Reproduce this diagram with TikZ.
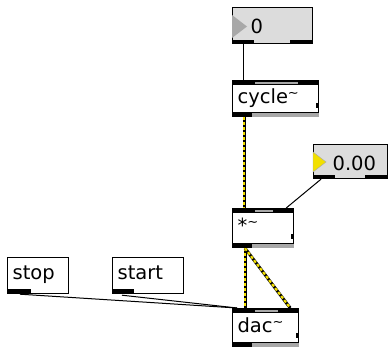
\documentclass[tikz,border=0pt]{standalone}
\usepackage{fontspec}
\newfontfamily\maxfont{DejaVu Sans}
\usetikzlibrary{calc,backgrounds}
\definecolor{boxgray}{HTML}{DCDCDC}
\definecolor{stripegray}{HTML}{A8A8A8}
\definecolor{sigyellow}{HTML}{F2E000}
% small raised tilde of the signal objects
\newcommand{\sigtl}{\raisebox{6pt}{\fontsize{13}{13}\selectfont\textasciitilde}}
% inlet bar, outlet and bottom strip of an object box
\newcommand{\objbars}[1]{%
  \fill (#1.north west) rectangle ($(#1.north east)+(0,5)$);
  \fill[stripegray] ($(#1.north west)+(23,1.5)$) rectangle ($(#1.north east)+(-21,3.5)$);
  \fill[stripegray] ($(#1.south west)+(0,-5)$) rectangle (#1.south east);
  \draw[line width=1pt] ($(#1.south west)+(0,-5)$) -- ($(#1.south east)+(0,-5)$);
  \fill (#1.south west) rectangle ($(#1.south west)+(20,-5)$);
  \fill ($(#1.south east)+(-3,-14)$) rectangle ($(#1.south east)+(0,-9)$);
}
% outlets of a number box
\newcommand{\numbars}[1]{%
  \fill ($(#1.south west)+(0,-4)$) rectangle ($(#1.south west)+(22,0)$);
  \fill ($(#1.south east)+(-23,-4)$) rectangle (#1.south east);
}
\tikzset{
  obj/.style={draw, fill=white, line width=1.2pt, inner xsep=5pt, inner ysep=0pt,
    text height=23pt, text depth=13pt, anchor=north west, align=left,
    text width=#1, font={\maxfont\fontsize{19.5}{19.5}\selectfont}},
  numbox/.style={obj=#1, fill=boxgray, text height=26pt, text depth=10pt},
  msgbox/.style={obj=#1, text height=22pt, text depth=14pt},
  ctl/.style={line width=1pt},
  signal/.style={line width=3pt, postaction={draw=sigyellow, line width=2.2pt, dash pattern=on 3pt off 2pt}},
}
\begin{document}
\begin{tikzpicture}[x=1pt, y=-1pt]
  \useasboundingbox (0,0) rectangle (391,348);
  % boxes
  \node[numbox=70pt] (num0) at (232,7) {\hspace*{13pt}0};
  \node[obj=76pt] (cycle) at (232,80) {cycle\sigtl};
  \node[numbox=64pt, text depth=8pt] (numf) at (313,144) {\hspace*{14pt}0.00};
  \node[obj=51pt, text height=24pt, text depth=15pt] (mul) at (232,208) {*\sigtl};
  \node[msgbox=51pt] (stop) at (7,257) {stop};
  \node[msgbox=61pt] (start) at (112,257) {start};
  \node[obj=56pt, text height=24pt, text depth=14pt] (dac) at (232,308) {dac\sigtl};
  % decorations
  \numbars{num0}
  \numbars{numf}
  \fill[stripegray] ($(num0.north west)+(0,8)$) -- ($(num0.north west)+(15,19.5)$) -- ($(num0.north west)+(0,31)$) -- cycle;
  \fill[sigyellow, draw=stripegray] ($(numf.north west)+(0,8)$) -- ($(numf.north west)+(13,18)$) -- ($(numf.north west)+(0,28)$) -- cycle;
  \objbars{cycle}
  \objbars{mul}
  \objbars{dac}
  \fill (stop.south west) rectangle ($(stop.south west)+(24,-5)$);
  \fill (start.south west) rectangle ($(start.south west)+(22,-5)$);
  % inlets and outlets
  \coordinate (num0-out) at ($(num0.south west)+(11,0)$);
  \coordinate (cycle-in) at ($(cycle.north west)+(11,0)$);
  \coordinate (cycle-out) at ($(cycle.south west)+(12,0)$);
  \coordinate (mul-in) at ($(mul.north west)+(12,0)$);
  \coordinate (numf-out) at ($(numf.south west)+(8,0)$);
  \coordinate (mul-rin) at ($(mul.north east)+(-8,0)$);
  \coordinate (mul-out) at ($(mul.south west)+(13,0)$);
  \coordinate (dac-in) at ($(dac.north west)+(13,0)$);
  \coordinate (dac-rin) at ($(dac.north east)+(-9,0)$);
  \coordinate (dac-cin) at ($(dac.north west)+(5,0)$);
  \coordinate (stop-out) at ($(stop.south west)+(13,0)$);
  \coordinate (start-out) at ($(start.south west)+(10,1)$);
  % connections
  \begin{scope}[on background layer]
    \draw[ctl] (num0-out) -- (cycle-in);
    \draw[signal] (cycle-out) -- (mul-in);
    \draw[ctl] (numf-out) -- (mul-rin);
    \draw[signal] (mul-out) -- (dac-in);
    \draw[signal] (mul-out) -- (dac-rin);
    \draw[ctl] (stop-out) -- (dac-cin);
    \draw[ctl] (start-out) -- (dac-cin);
  \end{scope}
\end{tikzpicture}
\end{document}
